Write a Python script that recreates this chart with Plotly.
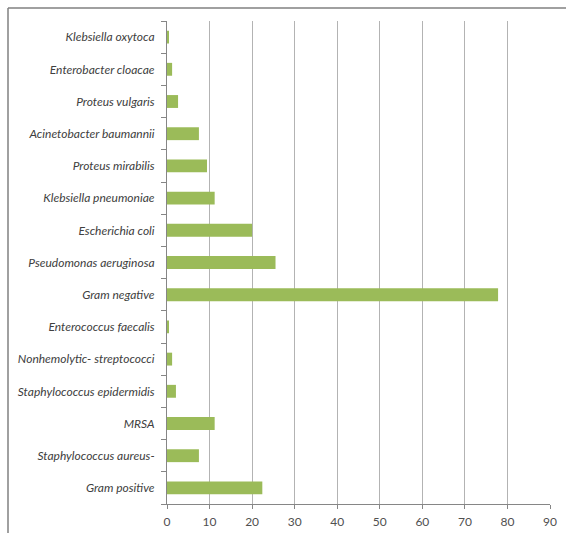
import plotly.graph_objects as go

categories = [
    "Gram positive",
    "Staphylococcus aureus-",
    "MRSA",
    "Staphylococcus epidermidis",
    "Nonhemolytic- streptococci",
    "Enterococcus faecalis",
    "Gram negative",
    "Pseudomonas aeruginosa",
    "Escherichia coli",
    "Klebsiella pneumoniae",
    "Proteus mirabilis",
    "Acinetobacter baumannii",
    "Proteus vulgaris",
    "Enterobacter cloacae",
    "Klebsiella oxytoca",
]
values = [22.4, 7.5, 11.2, 2.1, 1.2, 0.3, 77.8, 25.5, 20.0, 11.2, 9.4, 7.5, 2.6, 1.2, 0.3]
x_ticks = [0, 10, 20, 30, 40, 50, 60, 70, 80, 90]

W, H = 566, 533
L, R, T, B = 167, 16, 21, 29
pw = W - L - R
ph = H - T - B

fig = go.Figure(go.Bar(
    x=values, y=categories, orientation="h",
    marker=dict(color="#9BBB59", line=dict(width=0)),
    hoverinfo="x+y",
))

fig.update_layout(
    width=W, height=H,
    margin=dict(l=L, r=R, t=T, b=B, pad=0, autoexpand=False),
    paper_bgcolor="white", plot_bgcolor="white",
    bargap=0.6,
    showlegend=False,
    font=dict(family="Lato, 'Open Sans', sans-serif", size=12, color="#404040"),
)

fig.update_xaxes(
    range=[0, 90], tickvals=x_ticks, ticktext=[str(v) for v in x_ticks],
    showgrid=True, gridcolor="#B3B3B3", gridwidth=1,
    showline=True, linecolor="#868686", linewidth=1,
    ticks="outside", ticklen=4, tickcolor="#868686",
    tickfont=dict(size=12, color="#505050"),
    ticklabelstandoff=3, automargin=False,
    zeroline=False, fixedrange=True,
)
fig.update_yaxes(
    type="category", categoryorder="array", categoryarray=categories,
    showgrid=False, showline=True, linecolor="#868686", linewidth=1,
    ticks="outside", ticklen=5, tickcolor="#868686", tickson="boundaries",
    tickfont=dict(size=12, color="#404040", style="italic"),
    ticklabelstandoff=9, automargin=False,
    fixedrange=True,
)

# outer chart border (top and left visible)
x0 = (8 - L) / pw
y0 = (H - B - 8) / ph
fig.add_shape(type="line", xref="paper", yref="paper", x0=x0, x1=1.2, y0=y0, y1=y0,
              line=dict(color="#808080", width=1.5))
fig.add_shape(type="line", xref="paper", yref="paper", x0=x0, x1=x0, y0=y0, y1=-0.2,
              line=dict(color="#808080", width=1.5))

fig.write_html("out.html")
